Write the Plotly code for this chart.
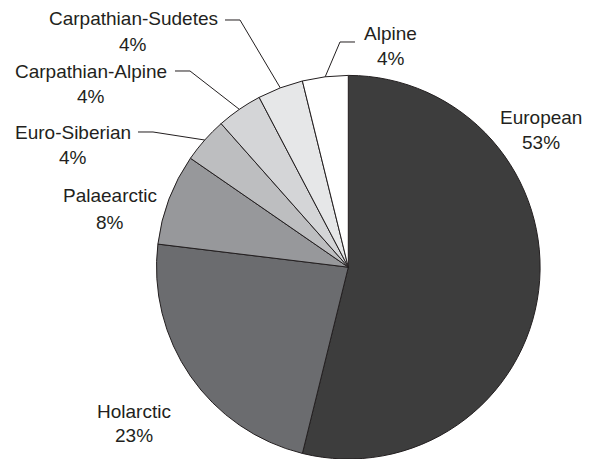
import math
import plotly.graph_objects as go

# Data (species counts per chorotype) and displayed labels
categories = ["European", "Holarctic", "Palaearctic", "Euro-Siberian",
              "Carpathian-Alpine", "Carpathian-Sudetes", "Alpine"]
counts = [14, 6, 2, 1, 1, 1, 1]
pct_labels = ["53%", "23%", "8%", "4%", "4%", "4%", "4%"]
colors = ["#3d3d3d", "#6b6c6f", "#97989b", "#bdbec0", "#d4d5d7", "#e6e7e8", "#ffffff"]

W, H = 594, 459
# pie geometry (pixels)
R = 191.8
CX, CY = 348.3, H - R

# label centres x, name line y, percent line y (pixels) and leader elbows
label_x = [541, 133.5, 110, 72.5, 91, 133, 391]
name_y = [117.5, 411.5, 196, 132.5, 71.5, 18.5, 33.5]
pct_y = [142.5, 435.5, 222, 157.5, 96.5, 44.5, 58.5]
leader = [None, None, None,
          [(138, 132), (153, 132)],
          [(175, 71), (190, 71)],
          [(225, 20), (240, 20)],
          [(355, 42), (340, 42)]]

fig = go.Figure()
fig.add_trace(go.Pie(
    labels=categories, values=counts, sort=False, direction="clockwise",
    rotation=0, textinfo="none", hoverinfo="label+percent",
    marker=dict(colors=colors, line=dict(color="#231f20", width=1)),
    domain=dict(x=[(CX - R) / W, (CX + R) / W], y=[0, 2 * R / H]),
    showlegend=False,
))

def px2paper(x, y):
    return x / W, 1 - y / H

FONT = dict(family="Liberation Sans, Arial, sans-serif", size=19, color="#231f20")
total = sum(counts)
cum = 0
annotations = []
shapes = []
for i, (cat, v) in enumerate(zip(categories, counts)):
    mid = (cum + v / 2) / total
    cum += v
    for txt, yy in ((cat, name_y[i]), (pct_labels[i], pct_y[i])):
        ax, ay = px2paper(label_x[i], yy)
        annotations.append(dict(
            x=ax, y=ay, xref="paper", yref="paper", xanchor="center", yanchor="middle",
            text=txt, showarrow=False, align="center", font=FONT,
        ))
    if leader[i]:
        theta = mid * 2 * math.pi
        ex, ey = CX + R * math.sin(theta), CY - R * math.cos(theta)
        pts = leader[i] + [(ex, ey)]
        pp = [px2paper(x, y) for x, y in pts]
        path = "M " + " L ".join(f"{x:.5f},{y:.5f}" for x, y in pp)
        shapes.append(dict(type="path", path=path, xref="paper", yref="paper",
                           line=dict(color="#231f20", width=1)))

fig.update_layout(
    width=W, height=H, margin=dict(l=0, r=0, t=0, b=0),
    paper_bgcolor="white", plot_bgcolor="white",
    annotations=annotations, shapes=shapes,
)
fig.write_html("out.html", config={"displayModeBar": False},
               post_script="document.body.style.margin='0px';document.body.style.overflow='hidden';")
